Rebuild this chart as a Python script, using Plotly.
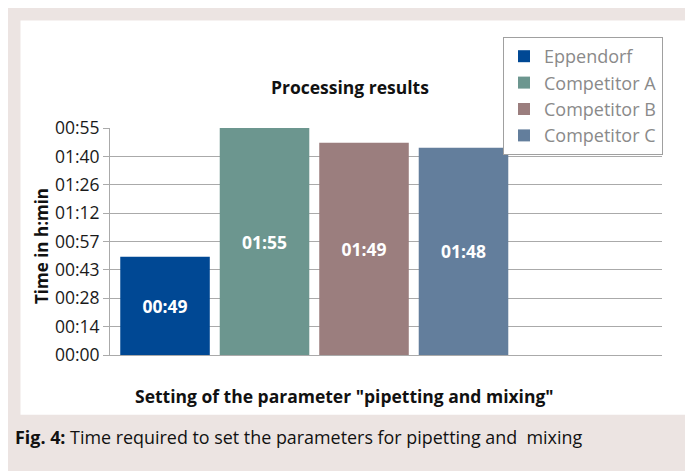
import plotly.graph_objects as go

# ---- data ----
categories = ["Eppendorf", "Competitor A", "Competitor B", "Competitor C"]
minutes = [49.9, 115.2, 107.7, 105.2]          # bar heights (minutes)
bar_labels = ["00:49", "01:55", "01:49", "01:48"]
colors = ["#004894", "#6c968f", "#9b7e7e", "#637e9c"]
tick_vals = [0, 14.4, 28.8, 43.2, 57.6, 72, 86.4, 100.8, 115.2]
tick_text = ["00:00", "00:14", "00:28", "00:43", "00:57", "01:12", "01:26", "01:40", "00:55"]

OFF = 8  # page body margin
W, H = 693 - OFF, 471 - OFF
L, R, T, B = 110 - OFF, 31, 128 - OFF, 116
PW, PH = W - L - R, H - T - B


def px2x(px):
    return (px - OFF - L) / PW


def py2y(py):
    return (H - B - (py - OFF)) / PH


fig = go.Figure()
for cat, val, lab, col in zip(categories, minutes, bar_labels, colors):
    fig.add_trace(go.Bar(
        x=[cat], y=[val], name=cat, text=[lab],
        marker=dict(color=col, line=dict(width=0)),
        width=0.9,
        textposition="inside", insidetextanchor="middle",
        textfont=dict(family="Open Sans", size=17.5, color="white", weight="bold"),
        hoverinfo="skip",
    ))

shapes = [
    dict(type="rect", xref="paper", yref="paper", layer="below",
         x0=px2x(5), x1=px2x(700), y0=py2y(5), y1=py2y(480),
         fillcolor="#ece4e2", line=dict(width=0)),
    dict(type="rect", xref="paper", yref="paper", layer="below",
         x0=px2x(20.5), x1=px2x(686), y0=py2y(20.5), y1=py2y(414.7),
         fillcolor="white", line=dict(width=0)),
]

annotations = [
    dict(text="<b>Processing results</b>", xref="paper", yref="paper",
         x=px2x(350), y=py2y(87), xanchor="center", yanchor="middle", showarrow=False,
         font=dict(family="Open Sans", size=17.5, color="#111")),
    dict(text="<b>Time in h:min</b>", xref="paper", yref="paper", textangle=-90,
         x=px2x(41), y=py2y(246), xanchor="center", yanchor="middle", showarrow=False,
         font=dict(family="Open Sans", size=17, color="#111")),
    dict(text="<b>Setting of the parameter \"pipetting and mixing\"</b>", xref="paper", yref="paper",
         x=px2x(344), y=py2y(396), xanchor="center", yanchor="middle", showarrow=False,
         font=dict(family="Open Sans", size=17.5, color="#111")),
    dict(text="<b>Fig. 4:</b> Time required to set the parameters for pipetting and\u00a0 mixing",
         xref="paper", yref="paper",
         x=px2x(13), y=py2y(437), xanchor="left", yanchor="middle", showarrow=False,
         font=dict(family="Open Sans", size=17.9, color="#111")),
]

fig.update_layout(
    width=W, height=H,
    margin=dict(l=L, r=R, t=T, b=B, pad=0),
    paper_bgcolor="white", plot_bgcolor="white",
    barmode="overlay",
    showlegend=True,
    legend=dict(x=px2x(663), xanchor="right", y=py2y(37), yanchor="top",
                bgcolor="white", bordercolor="#a0a0a0", borderwidth=1,
                font=dict(family="Open Sans", size=18, color="#8a8a8a"),
                tracegroupgap=0, traceorder="normal"),
    xaxis=dict(type="category", categoryorder="array", categoryarray=categories,
               range=[-0.553, 4.995], showticklabels=False, ticks="",
               showgrid=False, showline=True, linecolor="#aaaaaa", linewidth=1,
               zeroline=False, fixedrange=True),
    yaxis=dict(range=[0, 115.2], tickmode="array", tickvals=tick_vals, ticktext=tick_text,
               ticks="outside", ticklen=6, tickcolor="#aaaaaa",
               showgrid=True, gridcolor="#aaaaaa", gridwidth=1,
               showline=True, linecolor="#aaaaaa", linewidth=1, zeroline=False,
               tickfont=dict(family="Open Sans", size=17.5, color="#1a1a1a"), fixedrange=True),
    shapes=shapes,
    annotations=annotations,
)

fig.write_html("out.html")
